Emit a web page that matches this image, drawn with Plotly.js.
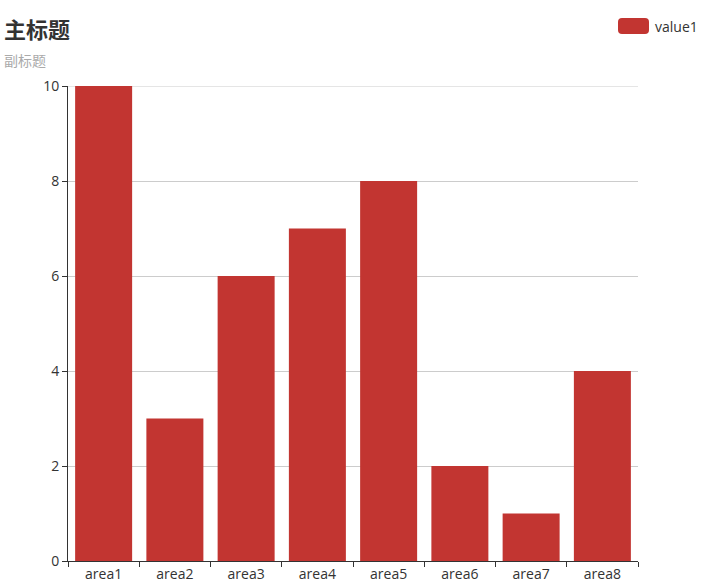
<!DOCTYPE html>
<html>
<head>
<meta charset="utf-8">
<script src="https://cdn.plot.ly/plotly-3.0.1.min.js"></script>
<style>html,body{margin:0;padding:0;background:#fff}#chart{width:703px;height:588px}</style>
</head>
<body>
<div id="chart"></div>
<script>
const categories = ['area1','area2','area3','area4','area5','area6','area7','area8'];
const value1 = [10, 3, 6, 7, 8, 2, 1, 4];
const seriesName = 'value1';
const titleText = '主标题';
const subtitleText = '副标题';
const yMax = 10;

const W = 703, H = 588;
const L = 68, R = 65, T = 86, B = 27;
const pw = W - L - R, ph = H - T - B;
const px = x => (x - L) / pw;
const py = y => (H - B - y) / ph;
const font = '"Open Sans", "Noto Sans CJK SC", sans-serif';
const cjk = '"Noto Sans CJK SC", sans-serif';

const trace = {
  type: 'bar', x: categories, y: value1, name: seriesName,
  marker: {color: '#c23531'}, showlegend: false, hoverinfo: 'x+y'
};

// rounded legend icon
const x0 = px(618), x1 = px(649), y0 = py(34), y1 = py(18);
const rx = 4 / pw, ry = 4 / ph;
const path = `M ${x0+rx},${y1} L ${x1-rx},${y1} Q ${x1},${y1} ${x1},${y1-ry} L ${x1},${y0+ry} Q ${x1},${y0} ${x1-rx},${y0} L ${x0+rx},${y0} Q ${x0},${y0} ${x0},${y0+ry} L ${x0},${y1-ry} Q ${x0},${y1} ${x0+rx},${y1} Z`;

const layout = {
  width: W, height: H,
  margin: {l: L, r: R, t: T, b: B},
  paper_bgcolor: '#fff', plot_bgcolor: '#fff',
  font: {family: font, size: 14, color: '#333'},
  bargap: 0.2,
  showlegend: false,
  xaxis: {
    type: 'category', tickson: 'boundaries', ticks: 'outside', ticklen: 5,
    tickcolor: '#333', showline: true, linecolor: '#333', linewidth: 1,
    showgrid: false, zeroline: false, fixedrange: true,
    tickfont: {size: 14, color: '#333', family: font}
  },
  yaxis: {
    range: [0, yMax], tickvals: [0, 2, 4, 6, 8, 10], ticks: 'outside', ticklen: 5, tickcolor: '#333',
    showline: true, linecolor: '#333', linewidth: 1,
    showgrid: true, gridcolor: '#ccc', gridwidth: 1, zeroline: false,
    fixedrange: true, tickfont: {size: 14, color: '#333', family: font}
  },
  shapes: [
    {type: 'line', xref: 'paper', yref: 'y', x0: 0, x1: 1, y0: yMax, y1: yMax,
     line: {color: '#ccc', width: 1}, layer: 'below'},
    {type: 'path', xref: 'paper', yref: 'paper', path: path,
     fillcolor: '#c23531', line: {width: 0}}
  ],
  annotations: [
    {text: '<b>' + titleText + '</b>', xref: 'paper', yref: 'paper',
     x: px(2), y: py(28), xanchor: 'left', yanchor: 'middle', showarrow: false,
     font: {size: 22, color: '#333', family: cjk}},
    {text: subtitleText, xref: 'paper', yref: 'paper',
     x: px(2), y: py(60), xanchor: 'left', yanchor: 'middle', showarrow: false,
     font: {size: 14, color: '#aaa', family: cjk}},
    {text: seriesName, xref: 'paper', yref: 'paper',
     x: px(653), y: py(26), xanchor: 'left', yanchor: 'middle', showarrow: false,
     font: {size: 14, color: '#333', family: font}}
  ]
};

Plotly.newPlot('chart', [trace], layout, {displayModeBar: false, staticPlot: true});
</script>
</body>
</html>
